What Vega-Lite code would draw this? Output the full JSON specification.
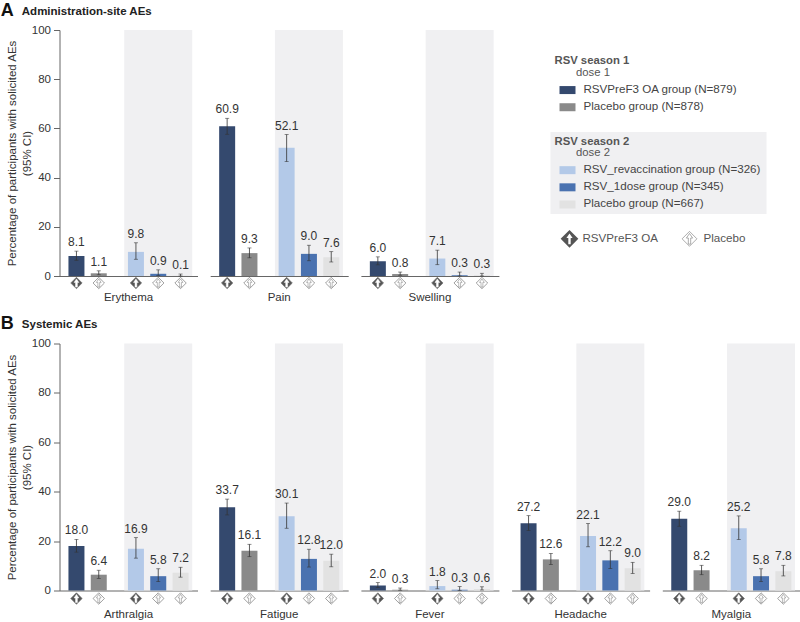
{
"$schema":"https://vega.github.io/schema/vega-lite/v6.json",
"padding":{"left":0.5,"top":1,"right":0,"bottom":0},
"background":"white",
"config":{"view":{"stroke":null},"font":"Liberation Sans","title":{"font":"Liberation Sans"},"axis":{"labelFont":"Liberation Sans","titleFont":"Liberation Sans"},"header":{"labelFont":"Liberation Sans"}},
"datasets":{
"rows":[
{"panel":"A","ae":"Erythema","group":"RSVPreF3 OA group (N=879)","product":"RSVPreF3 OA","pct":8.1,"lo":6.4,"hi":10.1},
{"panel":"A","ae":"Erythema","group":"Placebo group (N=878)","product":"Placebo","pct":1.1,"lo":0.5,"hi":2.1},
{"panel":"A","ae":"Erythema","group":"RSV_revaccination group (N=326)","product":"RSVPreF3 OA","pct":9.8,"lo":6.8,"hi":13.5},
{"panel":"A","ae":"Erythema","group":"RSV_1dose group (N=345)","product":"Placebo","pct":0.9,"lo":0.2,"hi":2.5},
{"panel":"A","ae":"Erythema","group":"Placebo group (N=667)","product":"Placebo","pct":0.1,"lo":0,"hi":0.8},
{"panel":"A","ae":"Pain","group":"RSVPreF3 OA group (N=879)","product":"RSVPreF3 OA","pct":60.9,"lo":57.6,"hi":64.1},
{"panel":"A","ae":"Pain","group":"Placebo group (N=878)","product":"Placebo","pct":9.3,"lo":7.4,"hi":11.4},
{"panel":"A","ae":"Pain","group":"RSV_revaccination group (N=326)","product":"RSVPreF3 OA","pct":52.1,"lo":46.5,"hi":57.5},
{"panel":"A","ae":"Pain","group":"RSV_1dose group (N=345)","product":"Placebo","pct":9.0,"lo":6.2,"hi":12.5},
{"panel":"A","ae":"Pain","group":"Placebo group (N=667)","product":"Placebo","pct":7.6,"lo":5.7,"hi":9.9},
{"panel":"A","ae":"Swelling","group":"RSVPreF3 OA group (N=879)","product":"RSVPreF3 OA","pct":6.0,"lo":4.5,"hi":7.8},
{"panel":"A","ae":"Swelling","group":"Placebo group (N=878)","product":"Placebo","pct":0.8,"lo":0.3,"hi":1.6},
{"panel":"A","ae":"Swelling","group":"RSV_revaccination group (N=326)","product":"RSVPreF3 OA","pct":7.1,"lo":4.6,"hi":10.5},
{"panel":"A","ae":"Swelling","group":"RSV_1dose group (N=345)","product":"Placebo","pct":0.3,"lo":0,"hi":1.6},
{"panel":"A","ae":"Swelling","group":"Placebo group (N=667)","product":"Placebo","pct":0.3,"lo":0,"hi":1.1},
{"panel":"B","ae":"Arthralgia","group":"RSVPreF3 OA group (N=879)","product":"RSVPreF3 OA","pct":18.0,"lo":15.5,"hi":20.7},
{"panel":"B","ae":"Arthralgia","group":"Placebo group (N=878)","product":"Placebo","pct":6.4,"lo":4.9,"hi":8.2},
{"panel":"B","ae":"Arthralgia","group":"RSV_revaccination group (N=326)","product":"RSVPreF3 OA","pct":16.9,"lo":13.1,"hi":21.4},
{"panel":"B","ae":"Arthralgia","group":"RSV_1dose group (N=345)","product":"Placebo","pct":5.8,"lo":3.6,"hi":8.8},
{"panel":"B","ae":"Arthralgia","group":"Placebo group (N=667)","product":"Placebo","pct":7.2,"lo":5.4,"hi":9.4},
{"panel":"B","ae":"Fatigue","group":"RSVPreF3 OA group (N=879)","product":"RSVPreF3 OA","pct":33.7,"lo":30.6,"hi":37.0},
{"panel":"B","ae":"Fatigue","group":"Placebo group (N=878)","product":"Placebo","pct":16.1,"lo":13.7,"hi":18.7},
{"panel":"B","ae":"Fatigue","group":"RSV_revaccination group (N=326)","product":"RSVPreF3 OA","pct":30.1,"lo":25.2,"hi":35.4},
{"panel":"B","ae":"Fatigue","group":"RSV_1dose group (N=345)","product":"Placebo","pct":12.8,"lo":9.5,"hi":16.7},
{"panel":"B","ae":"Fatigue","group":"Placebo group (N=667)","product":"Placebo","pct":12.0,"lo":9.6,"hi":14.7},
{"panel":"B","ae":"Fever","group":"RSVPreF3 OA group (N=879)","product":"RSVPreF3 OA","pct":2.0,"lo":1.2,"hi":3.2},
{"panel":"B","ae":"Fever","group":"Placebo group (N=878)","product":"Placebo","pct":0.3,"lo":0.1,"hi":1.0},
{"panel":"B","ae":"Fever","group":"RSV_revaccination group (N=326)","product":"RSVPreF3 OA","pct":1.8,"lo":0.7,"hi":4.0},
{"panel":"B","ae":"Fever","group":"RSV_1dose group (N=345)","product":"Placebo","pct":0.3,"lo":0,"hi":1.6},
{"panel":"B","ae":"Fever","group":"Placebo group (N=667)","product":"Placebo","pct":0.6,"lo":0.2,"hi":1.5},
{"panel":"B","ae":"Headache","group":"RSVPreF3 OA group (N=879)","product":"RSVPreF3 OA","pct":27.2,"lo":24.3,"hi":30.3},
{"panel":"B","ae":"Headache","group":"Placebo group (N=878)","product":"Placebo","pct":12.6,"lo":10.5,"hi":15.0},
{"panel":"B","ae":"Headache","group":"RSV_revaccination group (N=326)","product":"RSVPreF3 OA","pct":22.1,"lo":17.7,"hi":27.1},
{"panel":"B","ae":"Headache","group":"RSV_1dose group (N=345)","product":"Placebo","pct":12.2,"lo":8.9,"hi":16.1},
{"panel":"B","ae":"Headache","group":"Placebo group (N=667)","product":"Placebo","pct":9.0,"lo":6.9,"hi":11.4},
{"panel":"B","ae":"Myalgia","group":"RSVPreF3 OA group (N=879)","product":"RSVPreF3 OA","pct":29.0,"lo":26.0,"hi":32.1},
{"panel":"B","ae":"Myalgia","group":"Placebo group (N=878)","product":"Placebo","pct":8.2,"lo":6.4,"hi":10.2},
{"panel":"B","ae":"Myalgia","group":"RSV_revaccination group (N=326)","product":"RSVPreF3 OA","pct":25.2,"lo":20.6,"hi":30.2},
{"panel":"B","ae":"Myalgia","group":"RSV_1dose group (N=345)","product":"Placebo","pct":5.8,"lo":3.6,"hi":8.8},
{"panel":"B","ae":"Myalgia","group":"Placebo group (N=667)","product":"Placebo","pct":7.8,"lo":5.9,"hi":10.2}
],
"legendRows":[
{"row":"r05","kind":"head","label":"RSV season 1"},
{"row":"r07","kind":"dose","label":"dose 1"},
{"row":"r10","kind":"item","label":"RSVPreF3 OA group (N=879)"},
{"row":"r13","kind":"item","label":"Placebo group (N=878)"},
{"row":"r19","kind":"head","label":"RSV season 2"},
{"row":"r21","kind":"dose","label":"dose 2"},
{"row":"r24","kind":"item","label":"RSV_revaccination group (N=326)"},
{"row":"r27","kind":"item","label":"RSV_1dose group (N=345)"},
{"row":"r30","kind":"item","label":"Placebo group (N=667)"}
]
},
"spacing":10.5,
"vconcat":[
{"title":{"text":"A","anchor":"start","fontSize":18,"fontWeight":"bold","color":"#111","frame":"bounds","dx":-6,"offset":-14},
 "spacing":51,
 "hconcat":[
 {"title":{"text":"Administration-site AEs","anchor":"start","fontSize":11.5,"fontWeight":"bold","color":"#222","frame":"bounds","dx":15,"dy":-7,"offset":0},
  "data":{"name":"rows"},
  "transform":[{"filter":"datum.panel==='A'"}],
  "spacing":12.7,
  "bounds":"flush",
  "facet":{"column":{"field":"ae","sort":null,"title":null,"header":{"labelOrient":"bottom","labelFontSize":11.5,"labelColor":"#333","labelPadding":16}}},
  "spec":{"width":138,"height":246,
   "layer":[
   {"transform":[{"filter":"datum.group==='RSV_1dose group (N=345)'"}],"mark":{"type":"bar","size":68,"color":"#f0f0f2"},"encoding":{"x":{"field":"group","type":"nominal"},"y":{"datum":100},"y2":{"datum":0}}},
   {"mark":{"type":"bar","size":16},"encoding":{
     "x":{"field":"group","type":"nominal","title":null,"sort":null,"scale":{"domain":["_a","RSVPreF3 OA group (N=879)","_1","_2","Placebo group (N=878)","_3","_4","_5","_6","RSV_revaccination group (N=326)","_7","_8","RSV_1dose group (N=345)","_9","_10","Placebo group (N=667)","_b"],"paddingInner":0,"paddingOuter":0.78},"axis":{"labels":false,"ticks":false,"title":null,"domainColor":"#666","domainWidth":1}},
     "y":{"field":"pct","type":"quantitative","scale":{"domain":[0,100]},"axis":{"values":[0,20,40,60,80,100],"grid":false,"title":["Percentage of participants with solicited AEs","(95% CI)"],"titleFontSize":11.5,"titleLineHeight":15,"titleFontWeight":"normal","titleColor":"#333","titlePadding":-1.5,"labelFontSize":11.5,"labelColor":"#333","domainColor":"#666","tickColor":"#666","tickSize":6,"labelPadding":3}},
     "color":{"field":"group","type":"nominal","legend":null,"scale":{"domain":["RSVPreF3 OA group (N=879)","Placebo group (N=878)","RSV_revaccination group (N=326)","RSV_1dose group (N=345)","Placebo group (N=667)"],"range":["#34496e","#8a8a8a","#b3c9e8","#4a72b0","#e2e2e2"]}}}},
   {"mark":{"type":"rule","color":"#333","strokeWidth":0.8},"encoding":{"x":{"field":"group","type":"nominal"},"y":{"field":"lo","type":"quantitative"},"y2":{"field":"hi"}}},
   {"mark":{"type":"tick","color":"#333","size":4,"thickness":0.8,"orient":"horizontal"},"encoding":{"x":{"field":"group","type":"nominal"},"y":{"field":"lo","type":"quantitative"}}},
   {"mark":{"type":"tick","color":"#333","size":4,"thickness":0.8,"orient":"horizontal"},"encoding":{"x":{"field":"group","type":"nominal"},"y":{"field":"hi","type":"quantitative"}}},
   {"mark":{"type":"text","baseline":"bottom","dy":-2,"fontSize":12,"color":"#333"},"encoding":{"x":{"field":"group","type":"nominal"},"y":{"field":"hi","type":"quantitative"},"text":{"field":"pct","type":"quantitative","format":".1f"}}},
   {"mark":{"type":"point","shape":"diamond","size":130,"filled":true,"stroke":"#777","strokeWidth":0.7,"yOffset":7},"encoding":{"x":{"field":"group","type":"nominal"},"y":{"datum":0},"fill":{"field":"product","type":"nominal","legend":null,"scale":{"domain":["RSVPreF3 OA","Placebo"],"range":["#555555","#ffffff"]}},"opacity":{"value":1}}},
   {"mark":{"type":"point","shape":"M-0.16,0.72L-0.16,-0.1L-0.42,-0.1L0,-0.72L0.42,-0.1L0.16,-0.1L0.16,0.72Z","size":130,"filled":true,"fill":"#fff","strokeWidth":0.5,"yOffset":7},"encoding":{"x":{"field":"group","type":"nominal"},"y":{"datum":0},"stroke":{"field":"product","type":"nominal","legend":null,"scale":{"domain":["RSVPreF3 OA","Placebo"],"range":["#ffffff","#777777"]}},"opacity":{"value":1}}}
   ]}},
 {"width":250,"height":246,
  "data":{"name":"legendRows"},
  "layer":[
   {"data":{"values":[{"from":"r17","to":"r32"}]},"mark":{"type":"rect","color":"#f0f0f2","yOffset":2,"y2Offset":-2},"encoding":{"x":{"datum":0,"type":"quantitative"},"x2":{"datum":216},"y":{"field":"from","type":"nominal"},"y2":{"field":"to"}}},
   {"transform":[{"filter":"datum.kind==='head'"}],"mark":{"type":"text","align":"left","fontSize":11.3,"fontWeight":"bold","color":"#555"},"encoding":{"x":{"datum":4,"type":"quantitative"},"y":{"field":"row","type":"nominal"},"text":{"field":"label"}}},
   {"transform":[{"filter":"datum.kind==='dose'"}],"mark":{"type":"text","align":"left","fontSize":11.3,"color":"#555"},"encoding":{"x":{"datum":25.5,"type":"quantitative"},"y":{"field":"row","type":"nominal"},"text":{"field":"label"}}},
   {"transform":[{"filter":"datum.kind==='item'"}],"mark":{"type":"bar","size":8},"encoding":{"x":{"datum":9,"type":"quantitative"},"x2":{"datum":25},"y":{"field":"row","type":"nominal"},"color":{"field":"label","type":"nominal","legend":null,"scale":{"domain":["RSVPreF3 OA group (N=879)","Placebo group (N=878)","RSV_revaccination group (N=326)","RSV_1dose group (N=345)","Placebo group (N=667)"],"range":["#34496e","#8a8a8a","#b3c9e8","#4a72b0","#e2e2e2"]}}}},
   {"transform":[{"filter":"datum.kind==='item'"}],"mark":{"type":"text","align":"left","fontSize":11.6,"color":"#444"},"encoding":{"x":{"datum":33,"type":"quantitative"},"y":{"field":"row","type":"nominal"},"text":{"field":"label"}}},
   {"data":{"values":[{"product":"RSVPreF3 OA","row":"r36"}]},"mark":{"type":"point","shape":"diamond","size":220,"filled":true,"opacity":1,"color":"#555","stroke":"#555"},"encoding":{"x":{"datum":19,"type":"quantitative"},"y":{"field":"row","type":"nominal"}}},
   {"data":{"values":[{"product":"RSVPreF3 OA","row":"r36"}]},"mark":{"type":"point","shape":"M-0.16,0.72L-0.16,-0.1L-0.42,-0.1L0,-0.72L0.42,-0.1L0.16,-0.1L0.16,0.72Z","size":220,"filled":true,"fill":"#fff","opacity":1},"encoding":{"x":{"datum":19,"type":"quantitative"},"y":{"field":"row","type":"nominal"}}},
   {"data":{"values":[{"product":"RSVPreF3 OA","row":"r36"}]},"mark":{"type":"text","align":"left","fontSize":11.6,"color":"#555"},"encoding":{"x":{"datum":32,"type":"quantitative"},"y":{"field":"row","type":"nominal"},"text":{"field":"product"}}},
   {"data":{"values":[{"product":"Placebo","row":"r36"}]},"mark":{"type":"point","shape":"diamond","size":220,"filled":true,"opacity":1,"color":"#fff","stroke":"#888","strokeWidth":0.7},"encoding":{"x":{"datum":139,"type":"quantitative"},"y":{"field":"row","type":"nominal"}}},
   {"data":{"values":[{"product":"Placebo","row":"r36"}]},"mark":{"type":"point","shape":"M-0.16,0.72L-0.16,-0.1L-0.42,-0.1L0,-0.72L0.42,-0.1L0.16,-0.1L0.16,0.72Z","size":220,"filled":true,"fill":"#fff","stroke":"#777","opacity":1,"strokeWidth":0.6},"encoding":{"x":{"datum":139,"type":"quantitative"},"y":{"field":"row","type":"nominal"}}},
   {"data":{"values":[{"product":"Placebo","row":"r36"}]},"mark":{"type":"text","align":"left","fontSize":11.6,"color":"#555"},"encoding":{"x":{"datum":153,"type":"quantitative"},"y":{"field":"row","type":"nominal"},"text":{"field":"product"}}}
  ],
  "encoding":{
   "x":{"scale":{"domain":[0,250],"nice":false},"axis":null},
   "y":{"scale":{"domain":["r00","r01","r02","r03","r04","r05","r06","r07","r08","r09","r10","r11","r12","r13","r14","r15","r16","r17","r18","r19","r20","r21","r22","r23","r24","r25","r26","r27","r28","r29","r30","r31","r32","r33","r34","r35","r36","r37","r38","r39","r40","r41","r42"],"paddingInner":0,"paddingOuter":0},"axis":null}
  }}
 ]},
{"title":{"text":"B","anchor":"start","fontSize":18,"fontWeight":"bold","color":"#111","frame":"bounds","dx":-6,"offset":-14},
 "hconcat":[
 {"title":{"text":"Systemic AEs","anchor":"start","fontSize":11.5,"fontWeight":"bold","color":"#222","frame":"bounds","dx":15,"dy":-7,"offset":0},
  "data":{"name":"rows"},
  "transform":[{"filter":"datum.panel==='B'"}],
  "spacing":12.7,
  "bounds":"flush",
  "facet":{"column":{"field":"ae","sort":null,"title":null,"header":{"labelOrient":"bottom","labelFontSize":11.5,"labelColor":"#333","labelPadding":18}}},
  "spec":{"width":138,"height":247,
   "layer":[
   {"transform":[{"filter":"datum.group==='RSV_1dose group (N=345)'"}],"mark":{"type":"bar","size":68,"color":"#f0f0f2"},"encoding":{"x":{"field":"group","type":"nominal"},"y":{"datum":100},"y2":{"datum":0}}},
   {"mark":{"type":"bar","size":16},"encoding":{
     "x":{"field":"group","type":"nominal","title":null,"sort":null,"scale":{"domain":["_a","RSVPreF3 OA group (N=879)","_1","_2","Placebo group (N=878)","_3","_4","_5","_6","RSV_revaccination group (N=326)","_7","_8","RSV_1dose group (N=345)","_9","_10","Placebo group (N=667)","_b"],"paddingInner":0,"paddingOuter":0.78},"axis":{"labels":false,"ticks":false,"title":null,"domainColor":"#666","domainWidth":1}},
     "y":{"field":"pct","type":"quantitative","scale":{"domain":[0,100]},"axis":{"values":[0,20,40,60,80,100],"grid":false,"title":["Percentage of participants with solicited AEs","(95% CI)"],"titleFontSize":11.5,"titleLineHeight":15,"titleFontWeight":"normal","titleColor":"#333","titlePadding":-1.5,"labelFontSize":11.5,"labelColor":"#333","domainColor":"#666","tickColor":"#666","tickSize":6,"labelPadding":3}},
     "color":{"field":"group","type":"nominal","legend":null,"scale":{"domain":["RSVPreF3 OA group (N=879)","Placebo group (N=878)","RSV_revaccination group (N=326)","RSV_1dose group (N=345)","Placebo group (N=667)"],"range":["#34496e","#8a8a8a","#b3c9e8","#4a72b0","#e2e2e2"]}}}},
   {"mark":{"type":"rule","color":"#333","strokeWidth":0.8},"encoding":{"x":{"field":"group","type":"nominal"},"y":{"field":"lo","type":"quantitative"},"y2":{"field":"hi"}}},
   {"mark":{"type":"tick","color":"#333","size":4,"thickness":0.8,"orient":"horizontal"},"encoding":{"x":{"field":"group","type":"nominal"},"y":{"field":"lo","type":"quantitative"}}},
   {"mark":{"type":"tick","color":"#333","size":4,"thickness":0.8,"orient":"horizontal"},"encoding":{"x":{"field":"group","type":"nominal"},"y":{"field":"hi","type":"quantitative"}}},
   {"mark":{"type":"text","baseline":"bottom","dy":-2,"fontSize":12,"color":"#333"},"encoding":{"x":{"field":"group","type":"nominal"},"y":{"field":"hi","type":"quantitative"},"text":{"field":"pct","type":"quantitative","format":".1f"}}},
   {"mark":{"type":"point","shape":"diamond","size":130,"filled":true,"stroke":"#777","strokeWidth":0.7,"yOffset":8},"encoding":{"x":{"field":"group","type":"nominal"},"y":{"datum":0},"fill":{"field":"product","type":"nominal","legend":null,"scale":{"domain":["RSVPreF3 OA","Placebo"],"range":["#555555","#ffffff"]}},"opacity":{"value":1}}},
   {"mark":{"type":"point","shape":"M-0.16,0.72L-0.16,-0.1L-0.42,-0.1L0,-0.72L0.42,-0.1L0.16,-0.1L0.16,0.72Z","size":130,"filled":true,"fill":"#fff","strokeWidth":0.5,"yOffset":8},"encoding":{"x":{"field":"group","type":"nominal"},"y":{"datum":0},"stroke":{"field":"product","type":"nominal","legend":null,"scale":{"domain":["RSVPreF3 OA","Placebo"],"range":["#ffffff","#777777"]}},"opacity":{"value":1}}}
   ]}}
 ]}
]
}
